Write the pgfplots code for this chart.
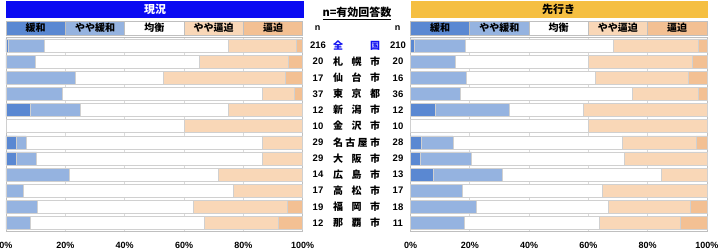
\documentclass[border=0pt]{standalone}
\usepackage{pgfplots}
\pgfplotsset{compat=1.18}
\usepackage{pgfplotstable}
\usepackage{fontspec}
\setmainfont{Liberation Sans}
\newfontfamily\jp{Noto Sans CJK JP}
\definecolor{c1}{HTML}{5A88D2}
\definecolor{c2}{HTML}{95B3E0}
\definecolor{c4}{HTML}{F9D7B7}
\definecolor{c5}{HTML}{F3C093}
\definecolor{gridc}{HTML}{D9D9D9}
\definecolor{barline}{HTML}{D0D0D0}
\definecolor{axisc}{HTML}{BFBFBF}
\definecolor{titleblue}{HTML}{0A0AF2}
\definecolor{titlegold}{HTML}{F5BF42}
\definecolor{nblue}{HTML}{1010F0}

\pgfplotstableread{
r a b c d e
1 0.9 12.0 62.1 22.7 2.3
2 0 10 55 30 5
3 0 23.5 29.4 41.2 5.9
4 0 18.9 67.6 10.8 2.7
5 8.3 16.7 50 25 0
6 0 0 60 40 0
7 3.4 3.4 79.4 13.8 0
8 3.4 6.9 75.9 13.8 0
9 0 21.4 50 28.6 0
10 0 5.9 70.6 23.5 0
11 0 10.5 52.6 31.6 5.3
12 0 8.3 58.4 25 8.3
}\leftdata

\pgfplotstableread{
r a b c d e
1 1.4 17.1 50.0 28.6 2.9
2 0 15 45 35 5
3 0 18.75 43.75 31.25 6.25
4 0 16.7 58.3 22.2 2.8
5 8.3 25 25 41.7 0
6 0 0 60 40 0
7 3.6 10.7 57.1 25 3.6
8 3.4 17.2 51.7 27.7 0
9 7.7 23.1 53.8 15.4 0
10 0 17.6 47.1 35.3 0
11 0 22.2 44.4 27.8 5.6
12 0 18.2 45.4 27.3 9.1
}\rightdata

\pgfplotsset{myaxis/.style={
  xbar stacked, bar width=13pt, scale only axis, height=193.6pt,
  xmin=0, xmax=100, ymin=0.5, ymax=12.5, y dir=reverse,
  ytick=\empty, xtick={0,20,40,60,80,100},
  xticklabels={0\%,20\%,40\%,60\%,80\%,100\%},
  xmajorgrids, grid style={draw=gridc, line width=0.6pt},
  major tick length=0pt,
  axis line style={draw=axisc, line width=0.6pt},
  tick label style={font=\fontsize{9}{10}\selectfont\bfseries},
  xticklabel style={yshift=-8pt},
  every axis plot/.append style={draw=barline, line width=0.5pt},
  anchor=south west, clip=false,
}}

\begin{document}
\begin{tikzpicture}
\useasboundingbox (0pt,0pt) rectangle (720pt,250pt);

% left axis
\begin{axis}[myaxis, at={(6pt,19pt)}, width=296.7pt]
\addplot[fill=c1] table[x=a,y=r]{\leftdata};
\addplot[fill=c2] table[x=b,y=r]{\leftdata};
\addplot[fill=white] table[x=c,y=r]{\leftdata};
\addplot[fill=c4] table[x=d,y=r]{\leftdata};
\addplot[fill=c5] table[x=e,y=r]{\leftdata};
\end{axis}

% right axis
\begin{axis}[myaxis, at={(410.5pt,19pt)}, width=296.3pt]
\addplot[fill=c1] table[x=a,y=r]{\rightdata};
\addplot[fill=c2] table[x=b,y=r]{\rightdata};
\addplot[fill=white] table[x=c,y=r]{\rightdata};
\addplot[fill=c4] table[x=d,y=r]{\rightdata};
\addplot[fill=c5] table[x=e,y=r]{\rightdata};
\end{axis}

\begin{scope}[x=1pt,y=1pt]
% title bars
\fill[titleblue] (6,232) rectangle (303.5,249);
\node[text=white, font=\jp\bfseries\fontsize{11}{12}\selectfont] at (155,240.5) {現況};
\fill[titlegold] (410.5,232) rectangle (707.5,249);
\node[text=black, font=\jp\bfseries\fontsize{11}{12}\selectfont] at (558.7,240.5) {先行き};

% legend cells
\foreach \i/\col/\lab in {0/c1/緩和, 1/c2/やや緩和, 2/white/均衡, 3/c4/やや逼迫, 4/c5/逼迫} {
  \filldraw[fill=\col, draw=axisc, line width=0.6pt] ({6+\i*59.34},215) rectangle ({6+(\i+1)*59.34},229);
  \node[font=\jp\bfseries\fontsize{10}{11}\selectfont] at ({6+\i*59.34+29.67},222) {\lab};
  \filldraw[fill=\col, draw=axisc, line width=0.6pt] ({410.5+\i*59.26},215) rectangle ({410.5+(\i+1)*59.26},229);
  \node[font=\jp\bfseries\fontsize{10}{11}\selectfont] at ({410.5+\i*59.26+29.63},222) {\lab};
}

% middle column
\node[font=\jp\bfseries\fontsize{11}{12}\selectfont] at (357,236.5) {\underline{n=有効回答数}};
\node[font=\bfseries\fontsize{9}{10}\selectfont] at (317.5,222) {n};
\node[font=\bfseries\fontsize{9}{10}\selectfont] at (397.5,222) {n};
\foreach \i/\nl/\nm/\nr in {
  1/216/{\color{nblue}全\hfill 国}/210,
  2/20/{札\hfill 幌\hfill 市}/20,
  3/17/{仙\hfill 台\hfill 市}/16,
  4/37/{東\hfill 京\hfill 都}/36,
  5/12/{新\hfill 潟\hfill 市}/12,
  6/10/{金\hfill 沢\hfill 市}/10,
  7/29/{名\hfill 古\hfill 屋\hfill 市}/28,
  8/29/{大\hfill 阪\hfill 市}/29,
  9/14/{広\hfill 島\hfill 市}/13,
  10/17/{高\hfill 松\hfill 市}/17,
  11/19/{福\hfill 岡\hfill 市}/18,
  12/12/{那\hfill 覇\hfill 市}/11} {
  \node[font=\bfseries\fontsize{9.5}{10}\selectfont] at (318,{212.6-(\i-0.5)*16.133}) {\nl};
  \node[font=\bfseries\fontsize{9.5}{10}\selectfont] at (398,{212.6-(\i-0.5)*16.133}) {\nr};
  \node[font=\jp\bfseries\fontsize{10}{11}\selectfont, inner sep=0pt] at (356.5,{212.6-(\i-0.5)*16.133}) {\makebox[47pt]{\nm}};
}
\end{scope}
\end{tikzpicture}
\end{document}
